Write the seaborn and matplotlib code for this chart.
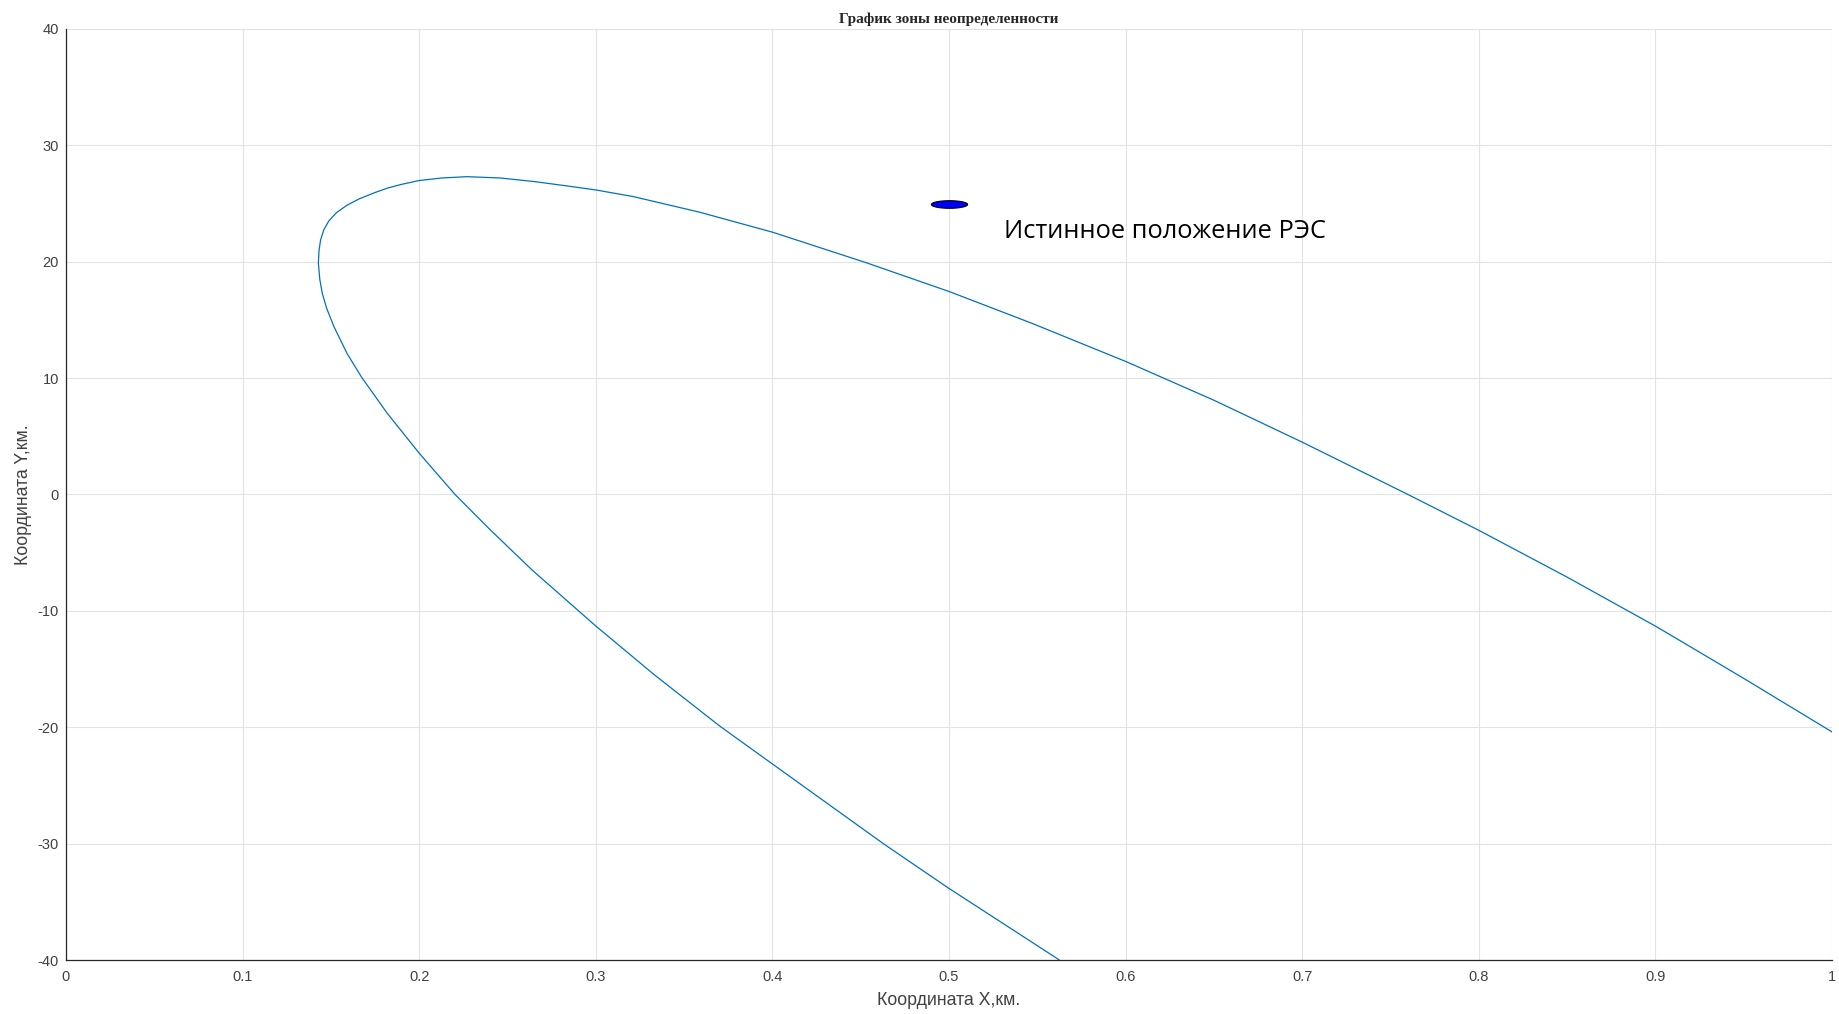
import numpy as np
import matplotlib
matplotlib.use("Agg")
import matplotlib.pyplot as plt
from matplotlib.path import Path
import seaborn as sns

# ---- data ----
curve_x = [0.5625, 0.4995, 0.4628, 0.3995, 0.3702, 0.3332, 0.3000, 0.2640, 0.2400,
           0.2203, 0.2000, 0.1818, 0.1675, 0.1592, 0.1518, 0.1476, 0.1451, 0.1437,
           0.1429, 0.1433, 0.1442, 0.1460, 0.1488, 0.1530, 0.1590, 0.1660, 0.1750,
           0.1825, 0.1900, 0.2000, 0.2130, 0.2269, 0.2457, 0.2646, 0.2820, 0.3000,
           0.3212, 0.3590, 0.4003, 0.4529, 0.5003, 0.5468, 0.6001, 0.6500, 0.7000,
           0.7599, 0.8003, 0.8500, 0.9005, 0.9500, 1.0000]
curve_y = [-40.0, -33.8, -30.0, -23.1, -19.9, -15.5, -11.3, -6.5, -3.0,
           0.0, 3.55, 7.0, 10.05, 12.1, 14.4, 16.0, 17.3, 18.5,
           19.9, 21.0, 21.9, 22.75, 23.5, 24.2, 24.85, 25.4, 25.95,
           26.35, 26.65, 26.98, 27.2, 27.31, 27.2, 26.9, 26.55, 26.17,
           25.6, 24.25, 22.53, 19.93, 17.43, 14.72, 11.43, 8.1, 4.5,
           0.0, -3.1, -7.1, -11.35, -15.8, -20.4]

true_x = [0.5]
true_y = [25.0]
true_label = "Истинное положение РЭС"

title = "График зоны неопределенности"
xlabel = "Координата X,км."
ylabel = "Координата Y,км."
xticks = [0, 0.1, 0.2, 0.3, 0.4, 0.5, 0.6, 0.7, 0.8, 0.9, 1]
xticklabels = ["0", "0.1", "0.2", "0.3", "0.4", "0.5", "0.6", "0.7", "0.8", "0.9", "1"]
yticks = [-40, -30, -20, -10, 0, 10, 20, 30, 40]

# ---- style ----
sns.set_style("white")
plt.rcParams['font.family'] = ['Liberation Sans', 'DejaVu Sans']
plt.rcParams['axes.unicode_minus'] = False

fig = plt.figure(figsize=(18.39, 10.14), dpi=100)
ax = fig.add_axes([66 / 1839, 1 - 960 / 1014, (1832 - 66) / 1839, (960 - 29) / 1014])

sns.lineplot(x=curve_x, y=curve_y, sort=False, estimator=None, ax=ax,
             color="#0072BD", linewidth=0.9)

theta = np.linspace(0, 2 * np.pi, 60)
ell = Path(np.column_stack([np.cos(theta), 0.21 * np.sin(theta)]), closed=True)
sns.scatterplot(x=true_x, y=true_y, marker=ell, s=680, color="#0000FF",
                edgecolor="black", linewidth=0.8, ax=ax, zorder=5)

ax.text(0.531, 22.0, true_label, ha="left", va="baseline",
        fontsize=18.3, family=["Open Sans", "DejaVu Sans"], color="black")

ax.set_xlim(0, 1)
ax.set_ylim(-40, 40)
ax.set_xticks(xticks)
ax.set_xticklabels(xticklabels)
ax.set_yticks(yticks)

ax.grid(True, color="#e3e3e3", linewidth=0.8)
ax.set_axisbelow(True)
for s in ["top", "right"]:
    ax.spines[s].set_visible(False)
for s in ["left", "bottom"]:
    ax.spines[s].set_color("#262626")
    ax.spines[s].set_linewidth(0.9)

ax.tick_params(axis="both", direction="in", length=11, width=0.9, color="#262626",
               labelsize=10.5, labelcolor="#404040")
ax.tick_params(axis="x", pad=7)
ax.tick_params(axis="y", pad=5)

ax.set_xlabel(xlabel, fontsize=12.8, color="#404040", labelpad=6)
ax.set_ylabel(ylabel, fontsize=12.8, color="#404040", labelpad=4)

fig.text(949 / 1839, 1 - 22.7 / 1014, title, ha="center", va="baseline",
         fontsize=11, fontweight="bold", family=["Liberation Serif", "DejaVu Serif"],
         color="#262626")

fig.savefig("out.png", dpi=100)
